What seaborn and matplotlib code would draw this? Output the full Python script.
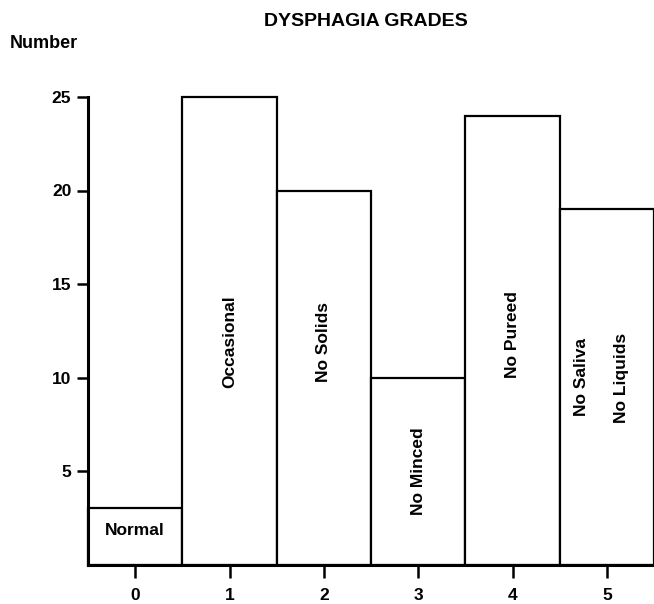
import matplotlib
matplotlib.use("Agg")
import matplotlib.pyplot as plt
import pandas as pd
import seaborn as sns

# Data
grades = [0, 1, 2, 3, 4, 5]
counts = [3, 25, 20, 10, 24, 19]
bar_labels = ["Normal", "Occasional", "No Solids", "No Minced", "No Pureed", ["No Saliva", "No Liquids"]]

# where the labels sit inside the bars (data units)
label_y = [1.8, 11.9, 11.9, 5.0, 12.3, 10.0]

sns.set_style("ticks")
plt.rcParams['font.family'] = ['Liberation Sans', 'DejaVu Sans']
plt.rcParams['font.weight'] = 'bold'
plt.rcParams['text.color'] = 'black'
plt.rcParams['xtick.color'] = 'black'
plt.rcParams['ytick.color'] = 'black'

df = pd.DataFrame({"grade": grades, "count": counts})

fig = plt.figure(figsize=(6.54, 6.04), dpi=100)
ax = fig.add_axes([88 / 654, 1 - 564.5 / 604, 566 / 654, (564.5 - 97) / 604])

sns.barplot(data=df, x="grade", y="count", color="white", edgecolor="black",
            linewidth=1.6, width=1.0, saturation=1, ax=ax)
for p in ax.patches:
    p.set_clip_on(False)

ax.set_xlim(-0.5, 5.5)
ax.set_ylim(0, 25)
ax.set_yticks([5, 10, 15, 20, 25])
ax.set_xticks(grades)
ax.set_xticklabels([str(g) for g in grades])
ax.set_xlabel("")
ax.set_ylabel("")

for s in ["top", "right"]:
    ax.spines[s].set_visible(False)
for s in ["left", "bottom"]:
    ax.spines[s].set_linewidth(2.2)
    ax.spines[s].set_color("black")
    ax.spines[s].set_capstyle("projecting")

ax.tick_params(axis="y", length=8, width=1.8, pad=4, labelsize=12.5, colors="black")
ax.tick_params(axis="x", length=9, width=1.8, pad=8, labelsize=12.5, colors="black")
for t in ax.get_xticklabels() + ax.get_yticklabels():
    t.set_fontweight("bold")
    t.set_color("black")

# labels inside the bars
lab_kw = dict(fontsize=12.5, fontweight="bold", color="black", ha="center", va="center")
for i, lab in enumerate(bar_labels):
    if i == 0:
        ax.text(grades[i], label_y[i], lab, **lab_kw)
    elif isinstance(lab, list):
        ax.text(grades[i] - 0.27, label_y[i], lab[0], rotation=90, **lab_kw)
        ax.text(grades[i] + 0.16, label_y[i], lab[1], rotation=90, **lab_kw)
    else:
        ax.text(grades[i], label_y[i], lab, rotation=90, **lab_kw)

fig.text(366 / 654, 1 - 21 / 604, "DYSPHAGIA GRADES", ha="center", va="center",
         fontsize=14, fontweight="bold", color="black")
fig.text(10 / 654, 1 - 44 / 604, "Number", ha="left", va="center",
         fontsize=13, fontweight="bold", color="black")

fig.savefig("out.png", dpi=100)
